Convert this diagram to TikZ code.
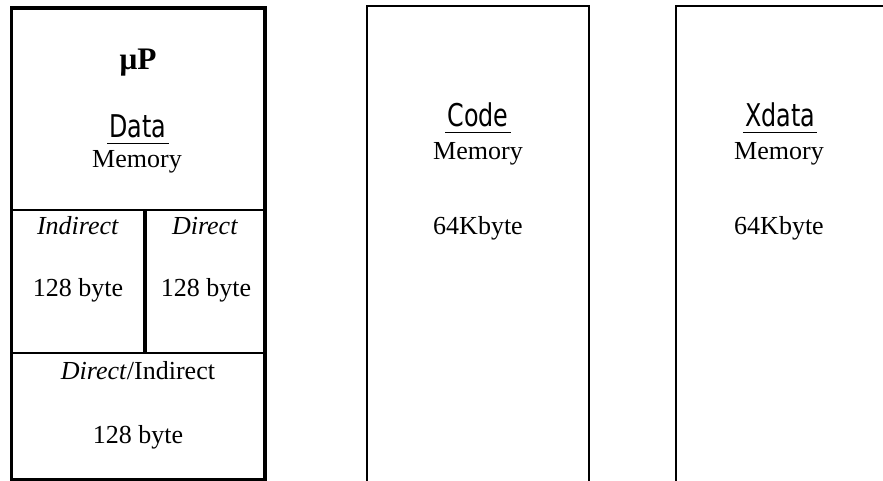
\documentclass[tikz,border=0pt]{standalone}
\usepackage{fontspec}
\setmainfont{Liberation Serif}
\newfontfamily\isofont[FakeStretch=0.76]{DejaVu Sans}
\usetikzlibrary{positioning}
\tikzset{
    x=0.75pt, y=-0.75pt,
    every node/.append style={
        font=\fontsize{19.5}{22}\selectfont,
        inner sep=0pt
    },
    outer frame/.style={line width=2.6pt},
    inner wall/.style={line width=3pt},
    divider/.style={line width=1.5pt},
    bank frame/.style={line width=1.5pt},
    memtext/.style={anchor=base},
    memname/.style={
        anchor=base,
        font=\isofont\fontsize{23.5}{26}\selectfont,
        inner xsep=1.5pt, inner ysep=3.5pt,
        append after command={(\tikzlastnode.south west) edge[line width=1.1pt] (\tikzlastnode.south east)}
    }
}

\begin{document}
\begin{tikzpicture}
    \useasboundingbox (0,0) rectangle (883,481);

    % internal data memory
    \draw[outer frame] (11.5,8) rectangle (265,480);
    \draw[divider] (11.5,210) -- (265,210);
    \draw[divider] (11.5,353) -- (265,353);
    \draw[inner wall] (145,210) -- (145,353);

    \node[memtext, font=\bfseries\fontsize{23.5}{26}\selectfont] (up) at (138,70) {μP};
    \node[memname] (data) at (138,138) {Data};
    \node[memtext] (datamem) at (137,168) {Memory};
    \node[memtext] (ind) at (78,235) {\textit{Indirect}};
    \node[memtext] (dir) at (205,235) {\textit{Direct}};
    \node[memtext] (indsize) at (78,297) {128 byte};
    \node[memtext] (dirsize) at (206,297) {128 byte};
    \node[memtext] (both) at (138,380) {\textit{Direct}/Indirect};
    \node[memtext] (bothsize) at (138,443) {128 byte};

    % code memory
    \draw[bank frame] (367,481) -- (367,6) -- (589,6) -- (589,481);
    \node[memname] (code) at (478,127) {Code};
    \node[memtext] (codemem) at (478,160) {Memory};
    \node[memtext] (codesize) at (478,235) {64Kbyte};

    % external data memory
    \draw[bank frame] (676,481) -- (676,6) -- (883,6);
    \node[memname] (xdata) at (780,127) {Xdata};
    \node[memtext] (xdatamem) at (779,160) {Memory};
    \node[memtext] (xdatasize) at (779,235) {64Kbyte};
\end{tikzpicture}
\end{document}
